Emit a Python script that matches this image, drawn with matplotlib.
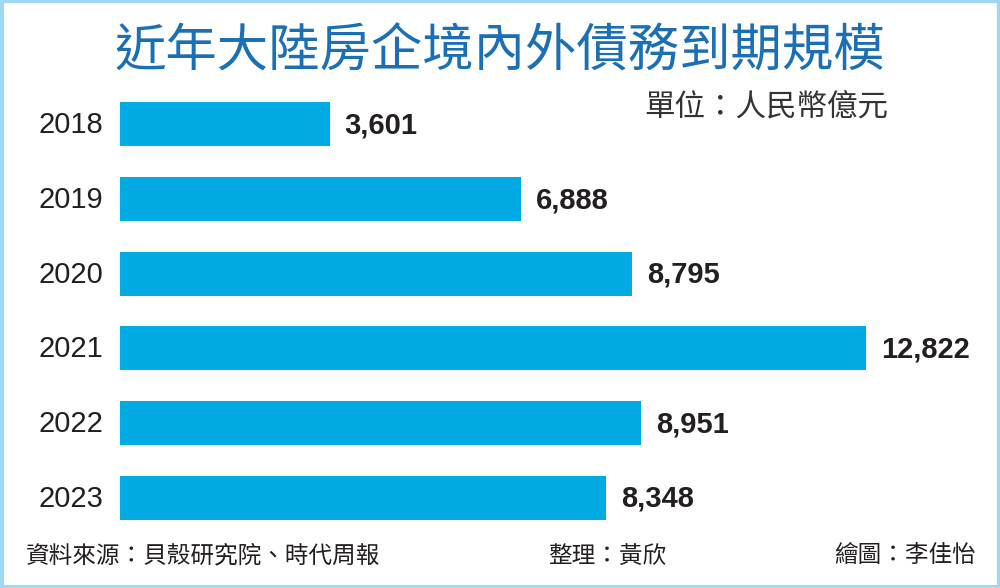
import matplotlib.pyplot as plt
from matplotlib.patches import Rectangle

plt.rcParams['font.family'] = ['Noto Sans CJK TC', 'DejaVu Sans']

years = ['2018', '2019', '2020', '2021', '2022', '2023']
values = [3601, 6888, 8795, 12822, 8951, 8348]

title = '近年大陸房企境內外債務到期規模'
unit = '單位：人民幣億元'
source = '資料來源：貝殼研究院、時代周報'
editor = '整理：黃欣'
artist = '繪圖：李佳怡'

bar_color = '#00aae3'
title_color = '#1b6fb7'
text_color = '#231f20'

fig = plt.figure(figsize=(10, 5.88), dpi=100)
fig.patch.set_facecolor('white')

# light blue frame round the whole picture
fig.patches.append(Rectangle((0.0015, 0.0025), 0.997, 0.995, transform=fig.transFigure,
                             fill=False, edgecolor='#9fd8f0', linewidth=3))

ax = fig.add_axes([0.12, 0.090, 0.86, 0.762])
pos = list(range(len(years)))
ax.barh(pos, values, height=0.59, color=bar_color)
ax.set_xlim(0, 14780)
ax.set_ylim(len(years) - 0.5, -0.5)

for p, y in zip(pos, years):
    ax.annotate(y, (0, p), xytext=(-17, -1), textcoords='offset pixels',
                ha='right', va='center', fontsize=21, color=text_color,
                family=['Liberation Sans', 'DejaVu Sans'])
for p, v in zip(pos, values):
    ax.annotate(f'{v:,}', (v, p), xytext=(15, -1), textcoords='offset pixels',
                ha='left', va='center', fontsize=21, fontweight='bold', color=text_color,
                family=['Liberation Sans', 'DejaVu Sans'])

ax.axis('off')

fig.text(0.5, 1 - 52 / 588, title, ha='center', va='center', fontsize=37,
         color=title_color, fontweight='medium')
fig.text(0.888, 1 - 108 / 588, unit, ha='right', va='center', fontsize=22, color='#333333')
fig.text(0.026, 1 - 556 / 588, source, ha='left', va='center', fontsize=17, color=text_color)
fig.text(0.548, 1 - 556 / 588, editor, ha='left', va='center', fontsize=17, color=text_color)
fig.text(0.976, 1 - 556 / 588, artist, ha='right', va='center', fontsize=17, color=text_color)

fig.savefig('out.png', dpi=100)
